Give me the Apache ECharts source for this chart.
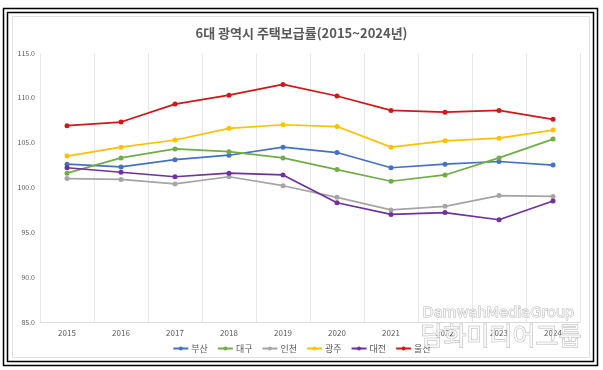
<!DOCTYPE html>
<html><head><meta charset="utf-8">
<script src="https://cdn.jsdelivr.net/npm/echarts@6/dist/echarts.min.js"></script>
<style>html,body{margin:0;padding:0;background:#fff}#c{width:603px;height:370px}</style>
</head><body><div id="c"></div>
<script>
const title = '6대 광역시 주택보급률(2015~2024년)';
const years = ['2015','2016','2017','2018','2019','2020','2021','2022','2023','2024'];
const busan   = [102.6, 102.3, 103.1, 103.6, 104.5, 103.9, 102.2, 102.6, 102.9, 102.5];
const daegu   = [101.6, 103.3, 104.3, 104.0, 103.3, 102.0, 100.7, 101.4, 103.3, 105.4];
const incheon = [101.0, 100.9, 100.4, 101.2, 100.2, 98.9, 97.5, 97.9, 99.1, 99.0];
const gwangju = [103.5, 104.5, 105.3, 106.6, 107.0, 106.8, 104.5, 105.2, 105.5, 106.4];
const daejeon = [102.2, 101.7, 101.2, 101.6, 101.4, 98.3, 97.0, 97.2, 96.4, 98.5];
const ulsan   = [106.9, 107.3, 109.3, 110.3, 111.5, 110.2, 108.6, 108.4, 108.6, 107.6];
const yTicks = {min: 85, max: 115, step: 5};

const names = ['부산','대구','인천','광주','대전','울산'];
const datas = [busan, daegu, incheon, gwangju, daejeon, ulsan];
const colors = ['#4472C4','#70AD47','#A5A5A5','#FFC000','#7030A0','#D01818'];

const chart = echarts.init(document.getElementById('c'));
const font = "'Noto Sans CJK KR', 'Noto Sans', sans-serif";
chart.setOption({
  animation: false,
  textStyle: {fontFamily: font},
  title: {text: title, left: 'center', top: 22,
    textStyle: {fontSize: 13, fontWeight: 'bold', color: '#595959', fontFamily: font}},
  grid: {left: 40, right: 23, top: 53, bottom: 48},
  legend: {bottom: 12, left: 'center', itemWidth: 15, itemHeight: 5, itemGap: 9,
    textStyle: {fontSize: 9, color: '#595959', padding: [0,0,0,-2]}},
  xAxis: {type: 'category', data: years, boundaryGap: true,
    axisLine: {show: true, lineStyle: {color: '#D9D9D9'}},
    axisTick: {show: false},
    splitLine: {show: true, lineStyle: {color: '#E8E8E8'}},
    axisLabel: {fontSize: 8, color: '#595959', margin: 7}},
  yAxis: {type: 'value', min: yTicks.min, max: yTicks.max, interval: yTicks.step,
    axisLine: {show: false}, axisTick: {show: false}, splitLine: {show: false},
    axisLabel: {fontSize: 7, color: '#595959', margin: 5, formatter: v => v.toFixed(1)}},
  series: names.map((n, i) => ({
    name: n, type: 'line', data: datas[i], symbol: 'circle', symbolSize: 5,
    itemStyle: {color: colors[i]}, lineStyle: {width: 1.7, color: colors[i]}
  })),
  graphic: [
    {type: 'rect', shape: {x: 3.5, y: 8.5, width: 594, height: 357}, style: {fill: null, stroke: '#000', lineWidth: 1.5}, silent: true},
    {type: 'rect', shape: {x: 7.5, y: 12.5, width: 586, height: 349}, style: {fill: null, stroke: '#000', lineWidth: 1.5}, silent: true},
    {type: 'rect', shape: {x: 12.5, y: 16.5, width: 577, height: 341}, style: {fill: null, stroke: '#E0E0E0', lineWidth: 1}, silent: true},
    {type: 'text', left: 422, top: 305, z: 100, style: {text: 'DamwahMediaGroup', fontSize: 14.5, fontFamily: "'DejaVu Sans', sans-serif",
      fill: 'rgba(255,255,255,0.85)', stroke: 'rgba(150,150,150,0.7)', lineWidth: 1}},
    {type: 'text', left: 420, top: 322, z: 100, style: {text: '담화미디어그룹', fontSize: 25, fontFamily: font,
      fill: 'rgba(255,255,255,0.8)', stroke: 'rgba(150,150,150,0.7)', lineWidth: 1}}
  ]
});
</script></body></html>
